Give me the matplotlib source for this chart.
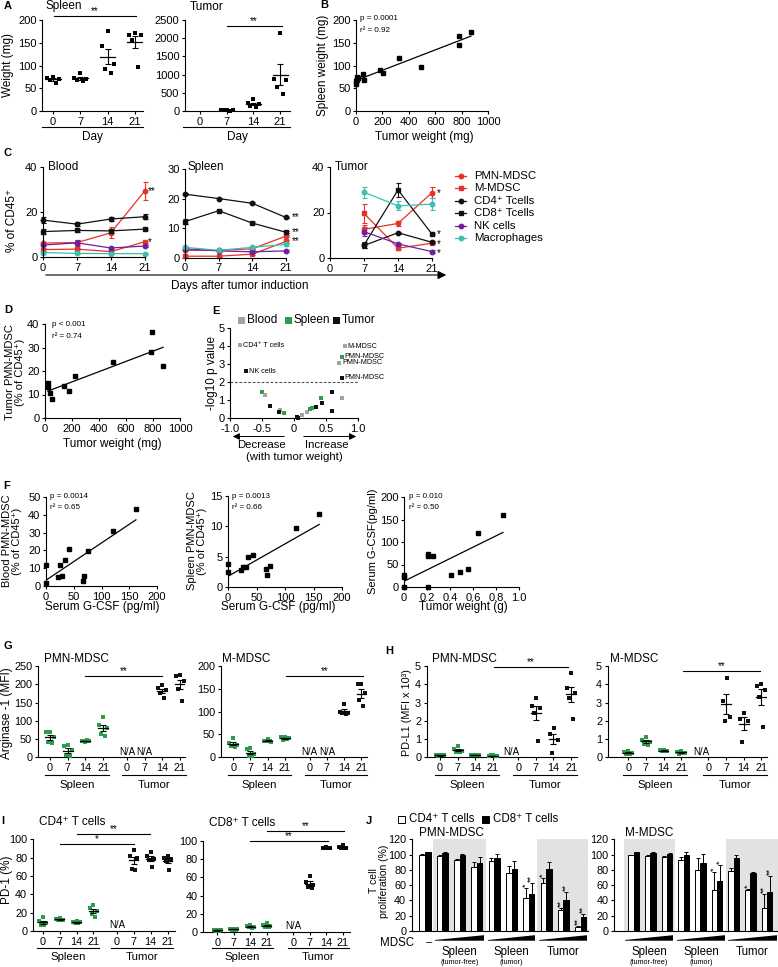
import matplotlib
matplotlib.use("Agg")
import matplotlib.pyplot as plt
import numpy as np
from matplotlib.lines import Line2D
from matplotlib.patches import Polygon, Rectangle, FancyArrowPatch
from matplotlib.transforms import blended_transform_factory

W, H = 778, 967

plt.rcParams["font.family"] = ["Liberation Sans", "DejaVu Sans"]
plt.rcParams["font.size"] = 8
plt.rcParams["axes.linewidth"] = 0.8
plt.rcParams["xtick.major.width"] = 0.8
plt.rcParams["ytick.major.width"] = 0.8
plt.rcParams["xtick.major.size"] = 2.5
plt.rcParams["ytick.major.size"] = 2.5
plt.rcParams["xtick.major.pad"] = 1.5
plt.rcParams["ytick.major.pad"] = 1.5

GREEN = "#2c9e4b"
GRAY = "#a3a3a3"

# ---------------- data ----------------
# A: organ weight by day
a_days = ["0", "7", "14", "21"]
a_spleen = [[75, 73, 70, 68, 61], [83, 72, 70, 68, 67], [175, 142, 104, 93, 84], [172, 167, 166, 155, 97]]
a_tumor = [[], [40, 30, 20, 15, 10], [320, 210, 185, 140, 100], [2130, 880, 850, 650, 480]]

# B: spleen vs tumor weight
b_tumor_mg = [0, 0, 5, 8, 10, 15, 50, 60, 182, 205, 326, 492, 780, 780, 871]
b_spleen_mg = [60, 65, 70, 75, 68, 72, 82, 68, 90, 83, 116, 97, 165, 145, 174]

# C: % of CD45+ over time
c_days = [0, 7, 14, 21]
c_tumor_days = [7, 14, 21]
c_series = ["PMN-MDSC", "M-MDSC", "CD4⁺ Tcells", "CD8⁺ Tcells", "NK cells", "Macrophages"]
c_colors = ["#e5332a", "#e5332a", "#111111", "#111111", "#6c1f9e", "#3dbfb0"]
c_markers = ["o", "s", "o", "s", "o", "o"]
c_blood = [[6.2, 6.4, 10.8, 29.5], [3.3, 3.5, 2.4, 6.8], [16.4, 14.6, 16.9, 17.9],
           [11.3, 11.8, 11.6, 12.4], [5.3, 6.3, 4.0, 4.9], [2.0, 1.6, 1.5, 1.5]]
c_blood_err = [[0.5, 1.0, 2.5, 4.0], [0.5, 0.5, 0.5, 0.5], [1.5, 1.0, 1.0, 1.0],
               [1.0, 0.8, 0.8, 0.6], [0.5, 1.2, 0.5, 0.5], [0.3, 0.3, 0.3, 0.3]]
c_spleen = [[2.5, 2.5, 3.0, 7.3], [0.5, 0.5, 1.2, 5.5], [21.5, 20.0, 18.4, 13.6],
            [12.2, 15.9, 11.7, 8.6], [3.0, 2.3, 2.0, 2.3], [3.5, 2.5, 3.5, 4.5]]
c_spleen_err = [[0.3, 0.3, 0.4, 0.4], [0.3, 0.3, 0.3, 0.4], [0.4, 0.3, 0.3, 0.3],
                [0.8, 0.3, 0.3, 0.3], [0.3, 0.3, 0.3, 0.3], [0.3, 0.3, 0.4, 0.4]]
c_tumor = [[12.6, 15.2, 28.7], [19.6, 4.3, 6.5], [5.5, 11.1, 6.9],
           [5.7, 29.9, 10.5], [11.6, 6.2, 2.8], [28.9, 22.9, 23.7]]
c_tumor_err = [[2.0, 1.0, 2.5], [4.0, 1.0, 0.5], [1.0, 0.5, 0.5],
               [1.5, 3.0, 0.5], [2.0, 0.5, 0.5], [2.5, 2.0, 2.5]]

# D: tumor PMN-MDSC vs tumor weight
d_tumor_mg = [20, 20, 40, 55, 140, 175, 220, 500, 790, 785, 875]
d_pmn_pct = [15, 13, 10.5, 8.2, 13.7, 11.3, 17.7, 24, 36.5, 28, 22]

# E: volcano-like summary
e_r = [-0.5, -0.45, -0.375, -0.22, -0.23, -0.16, 0.04, 0.06, 0.12, 0.2, 0.25, 0.28,
       0.34, 0.42, 0.43, 0.59, 0.6, 0.75, -0.84, -0.75, 0.8, 0.75, 0.71, 0.75]
e_logp = [1.46, 1.28, 0.67, 0.44, 0.35, 0.3, 0.07, 0.02, 0.17, 0.35, 0.48, 0.55,
          0.59, 1.09, 0.85, 1.46, 0.41, 1.09, 4.05, 2.6, 4.0, 3.4, 3.07, 2.24]
e_tissue = ["Spleen", "Blood", "Tumor", "Blood", "Tumor", "Spleen", "Tumor", "Tumor",
            "Blood", "Blood", "Spleen", "Spleen", "Tumor", "Spleen", "Tumor", "Tumor",
            "Tumor", "Blood", "Blood", "Tumor", "Blood", "Spleen", "Blood", "Tumor"]
e_labels = [""] * 18 + ["CD4⁺ T cells", "NK cells", "M-MDSC", "PMN-MDSC", "PMN-MDSC", "PMN-MDSC"]
e_colors = {"Blood": GRAY, "Spleen": GREEN, "Tumor": "#111111"}

# F: G-CSF correlations
f_gcsf = [0, 0, 22, 26, 28, 34, 42, 67, 69, 75, 121, 162]
f_blood_pmn = [11.8, 1.9, 4.9, 11.8, 5.8, 14.6, 20.8, 2.8, 5.8, 19.7, 30.9, 43.5]
f_gcsf2 = [0.5, 0.5, 22, 27, 31, 35, 43, 66, 69, 74, 120, 160]
f_spleen_pmn = [3.75, 2.4, 2.76, 3.3, 3.3, 4.9, 5.25, 2.9, 1.9, 3.4, 9.8, 12.1]
f_tumor_g = [0, 0, 0, 0.21, 0.21, 0.25, 0.21, 0.41, 0.49, 0.56, 0.64, 0.86]
f_serum_gcsf = [27, 23, 1, 73, 68, 68, 0, 26, 33, 40, 119, 160]

# G/H/I: days x tissue
ghi_days = ["0", "7", "14", "21", "0", "7", "14", "21"]
g_pmn = [[70, 68, 55, 42, 38], [35, 30, 20, 5, 3], [43, 45, 46, 44, 47], [110, 88, 80, 65, 58],
         [], [], [198, 190, 185, 175, 162], [225, 222, 210, 188, 155]]
g_m = [[42, 32, 28, 25, 22], [20, 18, 8, 3, 2], [40, 35, 33, 35, 36], [45, 44, 42, 38, 40],
       [], [], [117, 100, 98, 97, 95], [160, 160, 140, 125, 112]]
h_pmn = [[0.15, 0.1, 0.1, 0.05, 0.15], [0.6, 0.45, 0.35, 0.3, 0.3], [0.15, 0.1, 0.1, 0.12, 0.1],
         [0.1, 0.08, 0.07, 0.1, 0.05], [], [3.25, 2.8, 2.7, 2.45, 0.9], [1.6, 1.25, 0.95, 0.25],
         [4.6, 3.8, 3.5, 3.25, 2.1]]
h_m = [[0.35, 0.3, 0.25, 0.2, 0.2], [1.1, 0.95, 0.85, 0.75, 0.7], [0.4, 0.38, 0.35, 0.37, 0.36],
       [0.35, 0.3, 0.25, 0.2, 0.22], [], [4.35, 3.1, 2.2, 2.0], [2.45, 2.1, 2.0, 0.85],
       [4.0, 3.9, 3.7, 3.3, 1.65]]
i_cd4 = [[15, 11, 9, 7, 6], [14, 13, 12.5, 12, 12], [11, 10, 9.5, 9, 8.5], [28, 25, 22, 18, 15],
         [], [88, 82, 80, 68, 67], [86, 82, 79, 77, 70], [82, 80, 78, 76, 67]]
i_cd8 = [[3, 2.5, 2, 1.5, 1.5], [4, 3.5, 3.5, 3, 3], [8, 7, 6, 5.5, 5], [10, 8.5, 7, 6, 5.5],
         [], [61, 55, 52, 50, 48], [93, 92.5, 92, 92, 92], [95, 93, 92.5, 92, 91.5]]

# J: T cell proliferation
j_pmn_cd4 = [100, 98.5, 93, 84, 91, 76, 43, 63, 28, 5]
j_pmn_cd4_err = [1, 1, 1, 6, 4, 9, 13, 7, 2, 2]
j_pmn_cd8 = [103, 102.5, 99, 89, 96, 80.5, 49, 80.5, 40, 18]
j_pmn_cd8_err = [1, 1, 2, 8, 5, 11, 14, 10, 11, 4]
j_pmn_sig_cd4 = ["", "", "", "", "", "", "*", "*", "**", "**"]
j_pmn_sig_cd8 = ["", "", "", "", "", "", "**", "", "**", "**"]
j_m_cd4 = [99, 98, 96.5, 93.5, 80, 54, 78, 54, 30]
j_m_cd4_err = [1, 1, 1, 3, 15, 23, 4, 1, 19]
j_m_cd8 = [103, 102.5, 101, 100, 89, 66, 96, 76.5, 51]
j_m_cd8_err = [1, 1, 1, 3, 12, 21, 4, 1, 21]
j_m_sig_cd4 = ["", "", "", "", "", "*", "", "*", "**"]
j_m_sig_cd8 = ["", "", "", "", "", "*", "", "", "**"]

# ---------------- helpers ----------------
fig = plt.figure(figsize=(W / 100, H / 100), dpi=100)

JITTER = np.array([0.0, -0.2, 0.2, -0.1, 0.1])


def px_axes(left, top, right, bottom):
    ax = fig.add_axes([left / W, 1 - bottom / H, (right - left) / W, (bottom - top) / H])
    ax.spines[["top", "right"]].set_visible(False)
    ax.patch.set_alpha(0)
    return ax


def ftext(x, y, s, **kw):
    kw.setdefault("va", "center")
    return fig.text(x / W, 1 - y / H, s, **kw)


def fline(xs, ys, **kw):
    kw.setdefault("color", "black")
    kw.setdefault("lw", 0.8)
    fig.add_artist(Line2D([x / W for x in xs], [1 - y / H for y in ys], transform=fig.transFigure, **kw))


def farrow(x0, x1, y, lw=0.8, hl=5, hw=2.5):
    fig.add_artist(FancyArrowPatch((x0 / W, 1 - y / H), (x1 / W, 1 - y / H), transform=fig.transFigure,
                                   arrowstyle=f"-|>,head_length={hl},head_width={hw}", lw=lw,
                                   color="black", mutation_scale=1))


def letter(x, y, s):
    ftext(x, y, s, fontsize=8, weight="bold", ha="left")


def scatter_fit(ax, x, y, xlim, ylim, xticks, yticks, xticklabels=None):
    ax.plot(x, y, "s", color="black", ms=3.2, clip_on=False, zorder=3)
    k, b = np.polyfit(x, y, 1)
    xs = np.array([min(x), max(x)])
    ax.plot(xs, k * xs + b, color="black", lw=0.9)
    ax.set_xlim(*xlim)
    ax.set_ylim(*ylim)
    ax.set_xticks(xticks)
    ax.set_yticks(yticks)
    if xticklabels is not None:
        ax.set_xticklabels(xticklabels)


def dot_groups(ax, positions, groups, colors, ms=3.0, spread=1.0):
    for pos, vals, col in zip(positions, groups, colors):
        if len(vals) == 0:
            continue
        vals = np.asarray(vals, dtype=float)
        off = JITTER[:len(vals)] - JITTER[:len(vals)].mean()
        ax.plot(pos + off * spread, vals, "s", color=col, ms=ms, mew=0, clip_on=False, zorder=3)
        m = vals.mean()
        sem = vals.std(ddof=1) / np.sqrt(len(vals))
        ax.plot([pos - 0.28, pos + 0.28], [m, m], color="black", lw=0.9, zorder=4)
        ax.errorbar(pos, m, yerr=sem, color="black", capsize=2.2, lw=0.8, capthick=0.8, zorder=4)


def bracket(ax, x0, x1, y, label, fs=7):
    ax.plot([x0, x1], [y, y], color="black", lw=0.8, clip_on=False)
    ax.text((x0 + x1) / 2, y, label, ha="center", va="bottom", fontsize=fs)


def group_line(ax, x0, x1, py, label, ty, fs=8, color="black"):
    tr = blended_transform_factory(ax.transData, fig.transFigure)
    fig.add_artist(Line2D([x0, x1], [1 - py / H] * 2, transform=tr, color=color, lw=0.8))
    fig.text((x0 + x1) / 2, 1 - ty / H, label, transform=tr, ha="center", va="center", fontsize=fs)


# ---------------- A ----------------
letter(4, 6, "A")
axA1 = px_axes(42, 20, 143, 111)
dot_groups(axA1, np.arange(4), a_spleen, ["black"] * 4, ms=3.4, spread=1.1)
axA1.set_xlim(-0.4, 3.3)
axA1.set_ylim(0, 200)
axA1.set_yticks([0, 50, 100, 150, 200])
axA1.set_xticks(range(4))
axA1.set_xticklabels(a_days)
bracket(axA1, 0.03, 3.03, 209, "**")
ftext(46, 6, "Spleen", fontsize=8.5)
ftext(8, 65, "Weight (mg)", rotation=90, ha="center", fontsize=8.5)
fline([42, 143], [127, 127])
ftext(92, 137, "Day", ha="center", fontsize=8.5)

axA2 = px_axes(185, 20, 290, 111)
dot_groups(axA2, np.arange(4), a_tumor, ["black"] * 4, ms=3.4, spread=1.1)
axA2.set_xlim(-0.56, 3.37)
axA2.set_ylim(0, 2500)
axA2.set_yticks(range(0, 2501, 500))
axA2.set_xticks(range(4))
axA2.set_xticklabels(a_days)
bracket(axA2, 1.0, 3.06, 2343, "**")
ftext(190, 7, "Tumor", fontsize=8.5)
fline([183, 290], [127, 127])
ftext(237, 137, "Day", ha="center", fontsize=8.5)

# ---------------- B ----------------
letter(320, 5, "B")
axB = px_axes(356, 20, 488, 111)
scatter_fit(axB, b_tumor_mg, b_spleen_mg, (0, 1000), (0, 200), range(0, 1001, 200), range(0, 201, 50))
ftext(360, 19, "p = 0.0001", fontsize=5.8)
ftext(360, 31, "r² = 0.92", fontsize=5.8)
ftext(323, 65, "Spleen weight (mg)", rotation=90, ha="center", fontsize=8.5)
ftext(424, 137, "Tumor weight (mg)", ha="center", fontsize=8.5)

# ---------------- C ----------------
letter(4, 153, "C")


def c_panel(ax, xd, vals, errs, ylim, yticks):
    for v, e, col, mk in zip(vals, errs, c_colors, c_markers):
        ax.errorbar(xd, v, yerr=e, color=col, marker=mk, ms=3.2, lw=0.9, capsize=1.8,
                    elinewidth=0.8, capthick=0.8, clip_on=False)
    ax.set_xlim(0, 21)
    ax.set_ylim(*ylim)
    ax.set_yticks(yticks)
    ax.set_xticks(c_days)


axC1 = px_axes(43, 167, 145, 257)
c_panel(axC1, c_days, c_blood, c_blood_err, (0, 40), [0, 20, 40])
ftext(48, 167, "Blood", fontsize=8.5)
axC1.text(21.6, c_blood[0][3], "**", fontsize=7, va="center")
axC1.text(21.6, c_blood[1][3], "*", fontsize=7, va="center")
ftext(12, 220, "% of CD45⁺", rotation=90, ha="center", fontsize=8.5)

axC2 = px_axes(185, 169, 286, 257.7)
c_panel(axC2, c_days, c_spleen, c_spleen_err, (0, 30), [0, 10, 20, 30])
ftext(188, 167, "Spleen", fontsize=8.5)
axC2.text(22.2, c_spleen[2][3], "**", fontsize=7, va="center")
axC2.text(22.2, c_spleen[3][3], "**", fontsize=7, va="center")
axC2.text(22.2, c_spleen[0][3] - 1.6, "**", fontsize=7, va="center")

axC3 = px_axes(330, 167, 432, 258)
c_panel(axC3, c_tumor_days, c_tumor, c_tumor_err, (0, 40), [0, 20, 40])
ftext(335, 167, "Tumor", fontsize=8.5)
axC3.text(22.0, c_tumor[0][2], "*", fontsize=7, va="center")
axC3.text(22.0, c_tumor[3][2], "*", fontsize=7, va="center")
axC3.text(22.0, c_tumor[1][2] - 0.6, "*", fontsize=7, va="center")
axC3.text(22.0, c_tumor[4][2] - 0.8, "*", fontsize=7, va="center")

farrow(43, 449, 275)
ftext(240, 286, "Days after tumor induction", ha="center", fontsize=8.5)

for i, (name, col, mk) in enumerate(zip(c_series, c_colors, c_markers)):
    yrow = 176 + i * 12.4
    fline([455, 466], [yrow, yrow], color=col, lw=0.9)
    fig.add_artist(Line2D([460.5 / W], [1 - yrow / H], transform=fig.transFigure,
                          marker=mk, color=col, ms=3.2, lw=0))
    ftext(474, yrow, name, fontsize=8.2)

# ---------------- D ----------------
letter(4, 310, "D")
axD = px_axes(45, 324, 180, 418)
scatter_fit(axD, d_tumor_mg, d_pmn_pct, (0, 1000), (0, 40), range(0, 1001, 200), range(0, 41, 10))
ftext(52, 324, "p < 0.001", fontsize=5.8)
ftext(52, 337, "r² = 0.74", fontsize=5.8)
ftext(15, 372, "Tumor PMN-MDSC\n(% of CD45⁺)", rotation=90, ha="center", fontsize=8, linespacing=1.1)
ftext(112, 444, "Tumor weight (mg)", ha="center", fontsize=8.5)

# ---------------- E ----------------
letter(212, 311, "E")
axE = px_axes(230, 328, 358, 418)
for xv, yv, t, lab in zip(e_r, e_logp, e_tissue, e_labels):
    axE.plot(xv, yv, "s", color=e_colors[t], ms=3.2, mew=0, clip_on=False, zorder=3)
    if lab:
        axE.text(xv + 0.04, yv, lab, fontsize=5.2, va="center", ha="left")
axE.axhline(2, xmin=0, xmax=1, color="#555555", lw=0.8, ls=(0, (2.5, 1.5)))
axE.set_xlim(-1, 1)
axE.set_ylim(0, 5)
axE.set_xticks([-1, -0.5, 0, 0.5, 1])
axE.set_xticklabels(["-1.0", "-0.5", "0", "0.5", "1.0"])
axE.set_yticks(range(6))
for k, (name, col) in enumerate(e_colors.items()):
    x0 = [238, 285, 333][k]
    fig.add_artist(Rectangle((x0 / W, 1 - 323.5 / H), 6.5 / W, 6.5 / H, transform=fig.transFigure,
                             color=col, lw=0))
    ftext(x0 + 9, 320, name, fontsize=8.5)
ftext(212, 373, "-log10 p value", rotation=90, ha="center", fontsize=8.5)
farrow(287, 230, 436.5, lw=0.7, hl=4, hw=2)
farrow(301, 359, 436.5, lw=0.7, hl=4, hw=2)
ftext(262, 445, "Decrease", ha="center", fontsize=8.2)
ftext(327, 445, "Increase", ha="center", fontsize=8.2)
ftext(294, 457, "(with tumor weight)", ha="center", fontsize=8.2)

# ---------------- F ----------------
letter(3, 486, "F")
axF1 = px_axes(46, 497, 157, 586)
scatter_fit(axF1, f_gcsf, f_blood_pmn, (0, 200), (0, 50), range(0, 201, 50), range(0, 51, 10))
ftext(50, 496, "p = 0.0014", fontsize=5.8)
ftext(50, 507, "r² = 0.65", fontsize=5.8)
ftext(12, 541, "Blood PMN-MDSC\n(% of CD45⁺)", rotation=90, ha="center", fontsize=8, linespacing=1.1)
ftext(102, 607, "Serum G-CSF (pg/ml)", ha="center", fontsize=8.5)

axF2 = px_axes(228, 496, 342, 587)
scatter_fit(axF2, f_gcsf2, f_spleen_pmn, (0, 200), (0, 15), range(0, 201, 50), [0, 5, 10, 15])
ftext(232, 496, "p = 0.0013", fontsize=5.8)
ftext(232, 507, "r² = 0.66", fontsize=5.8)
ftext(197, 541, "Spleen PMN-MDSC\n(% of CD45⁺)", rotation=90, ha="center", fontsize=8, linespacing=1.1)
ftext(278, 607, "Serum G-CSF (pg/ml)", ha="center", fontsize=8.5)

axF3 = px_axes(404, 497, 519, 587)
scatter_fit(axF3, f_tumor_g, f_serum_gcsf, (0, 1.0), (0, 200), [0, 0.2, 0.4, 0.6, 0.8, 1.0],
            range(0, 201, 50), ["0", "0.2", "0.4", "0.6", "0.8", "1.0"])
ftext(409, 496, "p = 0.010", fontsize=5.8)
ftext(409, 507, "r² = 0.50", fontsize=5.8)
ftext(373, 541, "Serum G-CSF(pg/ml)", rotation=90, ha="center", fontsize=8)
ftext(463, 607, "Tumor weight (g)", ha="center", fontsize=8.5)

# ---------------- G / H / I ----------------
ghi_colors = [GREEN] * 4 + ["#111111"] * 4


def ghi_panel(ax, groups, tumor0, xlim, ylim, yticks, line_py, text_py):
    pos = np.array([0, 1, 2, 3, tumor0, tumor0 + 1, tumor0 + 2, tumor0 + 3])
    dot_groups(ax, pos, groups, ghi_colors, ms=3.2, spread=1.1)
    ax.set_xlim(*xlim)
    ax.set_ylim(*ylim)
    ax.set_yticks(yticks)
    ax.set_xticks(pos)
    ax.set_xticklabels(ghi_days)
    ax.tick_params(labelsize=7.8)
    group_line(ax, -0.3, 3.35, line_py, "Spleen", text_py, fs=8.2)
    group_line(ax, tumor0 - 0.3, tumor0 + 3.35, line_py, "Tumor", text_py, fs=8.2)
    return pos


letter(4, 646, "G")
axG1 = px_axes(37.7, 666, 185, 757.3)
p = ghi_panel(axG1, g_pmn, 4.35, (-0.7, 7.63), (0, 250), range(0, 251, 50), 775, 785)
bracket(axG1, 2.0, 6.35, 223, "**")
axG1.text(p[4], 15, "N/A", ha="center", va="center", fontsize=7)
axG1.text(p[5], 15, "N/A", ha="center", va="center", fontsize=7)
ftext(44, 659, "PMN-MDSC", fontsize=8.5)
ftext(7, 713, "Arginase -1 (MFI)", rotation=90, ha="center", fontsize=8.5)

axG2 = px_axes(220.7, 666, 366.7, 757.3)
p = ghi_panel(axG2, g_m, 4.45, (-0.73, 7.76), (0, 200), range(0, 201, 50), 775, 785)
bracket(axG2, 3.05, 7.55, 179, "**")
axG2.text(p[4], 12, "N/A", ha="center", va="center", fontsize=7)
axG2.text(p[5], 12, "N/A", ha="center", va="center", fontsize=7)
ftext(222, 659, "M-MDSC", fontsize=8.5)

letter(385, 651, "H")
axH1 = px_axes(426.7, 666, 576.7, 757.3)
p = ghi_panel(axH1, h_pmn, 4.45, (-0.76, 7.77), (0, 5), range(6), 775, 785)
bracket(axH1, 3.07, 7.27, 4.96, "**")
axH1.text(p[4] - 0.4, 0.3, "N/A", ha="center", va="center", fontsize=7)
ftext(432, 659, "PMN-MDSC", fontsize=8.5)
ftext(407, 713, "PD-L1 (MFI x 10³)", rotation=90, ha="center", fontsize=7.8)

axH2 = px_axes(607.7, 666, 766.7, 757.3)
p = ghi_panel(axH2, h_m, 4.55, (-1.17, 7.86), (0, 5), range(6), 775, 785)
bracket(axH2, 3.12, 7.48, 4.74, "**")
axH2.text(p[4] - 0.4, 0.3, "N/A", ha="center", va="center", fontsize=7)
ftext(610, 659, "M-MDSC", fontsize=8.5)

letter(1, 821, "I")
axI1 = px_axes(32.7, 839.3, 175, 931)
p = ghi_panel(axI1, i_cd4, 4.36, (-0.58, 7.8), (0, 100), range(0, 101, 20), 948, 957)
bracket(axI1, 1.0, 5.37, 94.9, "*")
bracket(axI1, 2.0, 6.33, 105.8, "**")
axI1.text(p[4] + 0.05, 7, "N/A", ha="center", va="center", fontsize=7)
ftext(39, 822, "CD4⁺ T cells", fontsize=8.5)
ftext(7, 880, "PD-1 (%)", rotation=90, ha="center", fontsize=8.5)

axI2 = px_axes(203.3, 840.7, 350, 932.3)
p = ghi_panel(axI2, i_cd8, 4.6, (-0.85, 8.04), (0, 100), range(0, 101, 20), 948, 957)
bracket(axI2, 1.98, 6.73, 99.7, "**")
bracket(axI2, 3.0, 7.68, 110.9, "**")
axI2.text(p[4], 7, "N/A", ha="center", va="center", fontsize=7)
ftext(209, 823, "CD8⁺ T cells", fontsize=8.5)

# ---------------- J ----------------
letter(366, 821, "J")


def j_panel(ax, cd4, cd4_err, cd8, cd8_err, sig4, sig8, shades, xlim):
    x = np.arange(len(cd4))
    w = 0.32
    for a, b in shades:
        ax.axvspan(a, b, color="#e2e2e2", lw=0, zorder=0)
    z = np.zeros(len(cd4))
    ax.bar(x - w / 2, cd4, w, color="white", edgecolor="black", lw=0.7,
           yerr=[z, cd4_err], capsize=1.6, error_kw=dict(lw=0.7, capthick=0.7), zorder=2)
    ax.bar(x + w / 2, cd8, w, color="black", edgecolor="black", lw=0.7,
           yerr=[z, cd8_err], capsize=1.6, error_kw=dict(lw=0.7, capthick=0.7), zorder=2)
    for xs, vals, errs, sig in ((x - w / 2, cd4, cd4_err, sig4), (x + w / 2, cd8, cd8_err, sig8)):
        for xi, v, e, s in zip(xs, vals, errs, sig):
            if s:
                ax.text(xi, v + e + 1.0, s, rotation=90, ha="center", va="bottom", fontsize=6.5)
    ax.set_xlim(*xlim)
    ax.set_ylim(0, 120)
    ax.set_yticks(range(0, 121, 20))
    ax.set_xticks([])
    ax.tick_params(labelsize=7.8)


def wedge(x0, x1):
    fig.add_artist(Polygon([(x0 / W, 1 - 940.7 / H), (x1 / W, 1 - 940.7 / H),
                            (x1 / W, 1 - 935.2 / H), (x0 / W, 1 - 940.0 / H)],
                           closed=True, transform=fig.transFigure, color="black", lw=0))


axJ1 = px_axes(411.7, 839.3, 588.3, 931)
j_panel(axJ1, j_pmn_cd4, j_pmn_cd4_err, j_pmn_cd8, j_pmn_cd8_err, j_pmn_sig_cd4, j_pmn_sig_cd8,
        [(0.48, 3.53), (6.46, 9.44)], (-0.77, 9.44))
ftext(419, 833, "PMN-MDSC", fontsize=8.5)
ftext(379, 881, "T cell\nproliferation (%)", rotation=90, ha="center", fontsize=7.5, linespacing=1.05)

axJ2 = px_axes(614.3, 839.3, 778, 931)
j_panel(axJ2, j_m_cd4, j_m_cd4_err, j_m_cd8, j_m_cd8_err, j_m_sig_cd4, j_m_sig_cd8,
        [(-0.56, 2.47), (5.57, 8.66)], (-1.16, 8.66))
ftext(625, 833, "M-MDSC", fontsize=8.5)

fig.add_artist(Rectangle((398 / W, 1 - 822.5 / H), 7 / W, 7 / H, transform=fig.transFigure,
                         facecolor="white", edgecolor="black", lw=0.7))
ftext(409, 819, "CD4⁺ T cells", fontsize=8.3)
fig.add_artist(Rectangle((482 / W, 1 - 822.5 / H), 7 / W, 7 / H, transform=fig.transFigure,
                         facecolor="black", edgecolor="black", lw=0.7))
ftext(493, 819, "CD8⁺ T cells", fontsize=8.3)

ftext(380, 943, "MDSC", fontsize=8.3)
ftext(429, 942, "–", ha="center", fontsize=8)
for (x0, x1), name, sub in zip([(435, 484), (488, 535), (539, 587), (625, 673), (677, 725), (728, 777)],
                               ["Spleen", "Spleen", "Tumor"] * 2,
                               ["(tumor-free)", "(tumor)", ""] * 2):
    wedge(x0, x1)
    ftext((x0 + x1) / 2, 952, name, ha="center", fontsize=8.3)
    if sub:
        ftext((x0 + x1) / 2, 963, sub, ha="center", fontsize=5.2)

fig.savefig("out.png", dpi=100)
